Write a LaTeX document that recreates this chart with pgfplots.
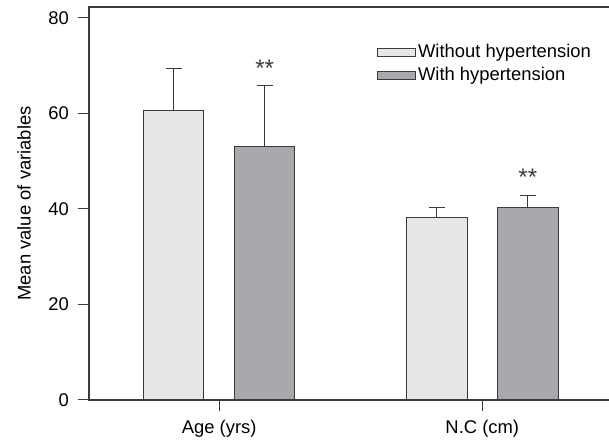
\documentclass[border=0pt]{standalone}
\usepackage{fontspec}
\setmainfont{Liberation Sans}
\usepackage{pgfplots}
\pgfplotsset{compat=1.18}

\definecolor{lightbar}{HTML}{E6E7E8}
\definecolor{darkbar}{HTML}{A7A9AC}
\definecolor{edge}{HTML}{3A3A3A}

\begin{document}
\begin{tikzpicture}[font=\fontsize{9.2}{11}\selectfont]
\begin{axis}[
  name=ax,
  scale only axis,
  width=262pt, height=196.5pt,
  xmin=-0.495, xmax=1.497,
  ymin=0, ymax=82.3,
  ytick={0,20,40,60,80},
  xtick={0,1},
  xticklabels={Age (yrs), N.C (cm)},
  /pgf/number format/assume math mode=true,
  tick pos=left,
  tick align=outside,
  major tick length=5.5pt,
  tick style={edge, line width=0.5pt},
  axis line style={edge, line width=0.6pt},
  yticklabel style={xshift=-1pt},
  xticklabel style={yshift=-1pt},
  ylabel={Mean value of variables},
  every axis y label/.style={at={([xshift=-32.5pt]rel axis cs:0,0.5)}, rotate=90, anchor=center},
  ybar, bar width=30.25pt,
  legend style={at={(0.549,0.908)}, anchor=north west, draw=none, fill=none,
    inner sep=0pt, row sep=2.2pt, nodes={inner xsep=1pt, inner ysep=0.5pt}},
  legend cell align=left,
  legend image code/.code={\draw[#1] (0pt,-2pt) rectangle (19pt,2pt);},
]
\addplot[fill=lightbar, draw=edge, line width=0.5pt, bar shift=-22.75pt,
  error bars/.cd, y dir=plus, y explicit,
  error bar style={edge, line width=0.5pt},
  error mark options={rotate=90, mark size=4pt, edge, line width=0.5pt}]
  coordinates {(0,60.7) +- (0,8.8) (1,38.2) +- (0,2.1)};
\addplot[fill=darkbar, draw=edge, line width=0.5pt, bar shift=22.75pt,
  error bars/.cd, y dir=plus, y explicit,
  error bar style={edge, line width=0.5pt},
  error mark options={rotate=90, mark size=4pt, edge, line width=0.5pt}]
  coordinates {(0,53.0) +- (0,12.8) (1,40.3) +- (0,2.6)};
\legend{Without hypertension, With hypertension}
\node[xshift=22.75pt, text=edge, font=\fontsize{12}{12}\selectfont] at (axis cs:0,69.4) {**};
\node[xshift=22.75pt, text=edge, font=\fontsize{12}{12}\selectfont] at (axis cs:1,46.6) {**};
\end{axis}
\pgfresetboundingbox
\path ([xshift=-44.5pt,yshift=-20pt]ax.south west) rectangle ([xshift=-2pt,yshift=3.5pt]ax.north east);
\end{tikzpicture}
\end{document}
